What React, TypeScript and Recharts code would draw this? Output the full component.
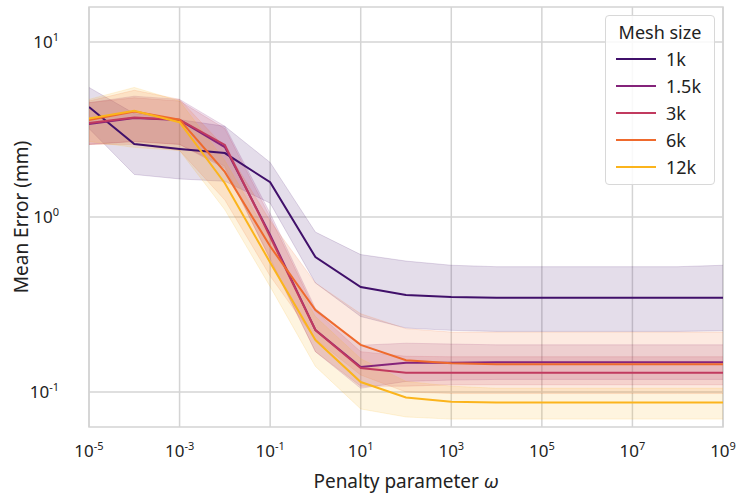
import React from 'react'
import { ComposedChart, Area, Line, XAxis, YAxis, CartesianGrid, ReferenceArea } from 'recharts'

// exponents of the penalty parameter (one point per decade)
const exponents = [-5, -4, -3, -2, -1, 0, 1, 2, 3, 4, 5, 6, 7, 8, 9]
const xTicks = [1e-5, 1e-3, 1e-1, 1e1, 1e3, 1e5, 1e7, 1e9]
const yTicks = [0.1, 1, 10]

const meshNames = ['1k', '1.5k', '3k', '6k', '12k']
const meshColors = ['#40106a', '#84237a', '#c13a5f', '#ef6a2d', '#fbb41c']

const mean1k = [4.25, 2.61, 2.45, 2.32, 1.58, 0.59, 0.398, 0.358, 0.349, 0.346, 0.346, 0.346, 0.346, 0.346, 0.346]
const upper1k = [5.5, 3.9, 3.6, 3.3, 2.05, 0.82, 0.61, 0.56, 0.53, 0.52, 0.52, 0.52, 0.52, 0.52, 0.53]
const lower1k = [3.2, 1.75, 1.65, 1.6, 1.2, 0.42, 0.27, 0.232, 0.225, 0.222, 0.222, 0.222, 0.222, 0.222, 0.224]

const mean15k = [3.4, 3.68, 3.58, 2.51, 0.79, 0.226, 0.139, 0.147, 0.147, 0.148, 0.148, 0.148, 0.148, 0.148, 0.148]
const upper15k = [4.5, 4.9, 4.7, 3.3, 1.05, 0.3, 0.185, 0.19, 0.188, 0.186, 0.186, 0.186, 0.186, 0.186, 0.186]
const lower15k = [2.6, 2.7, 2.6, 1.9, 0.58, 0.17, 0.105, 0.115, 0.117, 0.118, 0.118, 0.118, 0.118, 0.118, 0.118]

const mean3k = [3.45, 3.7, 3.6, 2.58, 0.77, 0.226, 0.137, 0.129, 0.129, 0.129, 0.129, 0.129, 0.129, 0.129, 0.129]
const upper3k = [4.5, 4.8, 4.6, 3.2, 1.0, 0.29, 0.17, 0.16, 0.159, 0.159, 0.159, 0.159, 0.159, 0.159, 0.159]
const lower3k = [2.6, 2.7, 2.6, 1.95, 0.57, 0.17, 0.108, 0.108, 0.11, 0.11, 0.11, 0.11, 0.11, 0.11, 0.11]

const mean6k = [3.58, 4.0, 3.6, 1.81, 0.68, 0.294, 0.186, 0.152, 0.146, 0.144, 0.144, 0.144, 0.144, 0.144, 0.144]
const upper6k = [4.6, 5.3, 4.7, 2.5, 0.95, 0.42, 0.28, 0.23, 0.22, 0.22, 0.22, 0.22, 0.22, 0.22, 0.22]
const lower6k = [2.6, 2.6, 2.4, 1.25, 0.46, 0.2, 0.125, 0.1, 0.098, 0.098, 0.098, 0.098, 0.098, 0.098, 0.098]

const mean12k = [3.65, 4.05, 3.48, 1.56, 0.55, 0.198, 0.114, 0.093, 0.088, 0.087, 0.087, 0.087, 0.087, 0.087, 0.087]
const upper12k = [4.7, 5.5, 4.6, 2.1, 0.75, 0.27, 0.155, 0.115, 0.108, 0.105, 0.105, 0.105, 0.105, 0.105, 0.105]
const lower12k = [2.7, 2.5, 2.4, 1.1, 0.4, 0.14, 0.08, 0.072, 0.07, 0.07, 0.07, 0.07, 0.07, 0.07, 0.07]

const means = [mean1k, mean15k, mean3k, mean6k, mean12k]
const uppers = [upper1k, upper15k, upper3k, upper6k, upper12k]
const lowers = [lower1k, lower15k, lower3k, lower6k, lower12k]

const data = exponents.map((e, i) => {
  const row: any = { x: Math.pow(10, e) }
  meshNames.forEach((_, s) => {
    row['m' + s] = means[s][i]
    row['b' + s] = [lowers[s][i], uppers[s][i]]
  })
  return row
})

const FONT = '"Noto Sans", sans-serif'
const GRID = '#d4d4d4'
const Y_MIN = Math.pow(10, -1.2)
const Y_MAX = Math.pow(10, 1.2)

const XTick = ({ x, y, payload }: any) => {
  const e = Math.round(Math.log10(payload.value))
  return (
    <text x={x} y={y + 22} textAnchor="middle" fontFamily={FONT} fontSize={17} fill="#222">
      10<tspan dy={-7} fontSize={11}>{e}</tspan>
    </text>
  )
}

const YTick = ({ x, y, payload }: any) => {
  const e = Math.round(Math.log10(payload.value))
  return (
    <text x={x - 22} y={y + 6} textAnchor="end" fontFamily={FONT} fontSize={17} fill="#222">
      10<tspan dy={-7} fontSize={11}>{e}</tspan>
    </text>
  )
}

const MeshLegend = () => (
  <div
    style={{
      position: 'absolute',
      left: 605,
      top: 15,
      width: 110,
      height: 170,
      boxSizing: 'border-box',
      border: '1.5px solid #d8d8d8',
      borderRadius: 4,
      background: 'rgba(255,255,255,0.85)',
      fontFamily: FONT,
      fontSize: 18,
      color: '#222',
      paddingTop: 3,
    }}
  >
    <div style={{ textAlign: 'center', lineHeight: '26px' }}>Mesh size</div>
    {meshNames.map((n, i) => (
      <div key={n} style={{ display: 'flex', alignItems: 'center', height: 27 }}>
        <div style={{ width: 40, height: 2, background: meshColors[i], marginLeft: 10, marginRight: 10 }} />
        <span>{n}</span>
      </div>
    ))}
  </div>
)

export default function App() {
  return (
    <div style={{ position: 'absolute', left: 0, top: 0, width: 736, height: 495, background: '#fff' }}>
      <ComposedChart width={736} height={495} data={data} margin={{ top: 7, right: 13, left: 0, bottom: 0 }}>
        <CartesianGrid stroke={GRID} strokeWidth={1.5} horizontalValues={yTicks} verticalValues={xTicks} />
        <ReferenceArea x1={1e-5} x2={1e9} y1={Y_MIN} y2={Y_MAX} fill="none" stroke={GRID} strokeWidth={1.5} />
        <XAxis
          dataKey="x"
          type="number"
          scale="log"
          domain={[1e-5, 1e9]}
          ticks={xTicks}
          interval={0}
          tick={<XTick />}
          tickLine={false}
          axisLine={false}
          height={68}
          allowDataOverflow
          label={{
            content: () => (
              <text x={406} y={488} textAnchor="middle" fontFamily={FONT} fontSize={19} fill="#222">
                Penalty parameter <tspan fontStyle="italic">ω</tspan>
              </text>
            ),
          }}
        />
        <YAxis
          type="number"
          scale="log"
          domain={[Y_MIN, Y_MAX]}
          ticks={yTicks}
          interval={0}
          tick={<YTick />}
          tickLine={false}
          axisLine={false}
          width={89}
          allowDataOverflow
          label={{
            content: () => (
              <text x={28} y={217} transform="rotate(-90 28 217)" textAnchor="middle" fontFamily={FONT} fontSize={19} fill="#222">
                Mean Error (mm)
              </text>
            ),
          }}
        />
        {meshNames.map((n, s) => (
          <Area
            key={'b' + n}
            dataKey={'b' + s}
            type="linear"
            stroke={meshColors[s]}
            strokeOpacity={0.15}
            fill={meshColors[s]}
            fillOpacity={0.14}
            isAnimationActive={false}
          />
        ))}
        {meshNames.map((n, s) => (
          <Line
            key={'m' + n}
            dataKey={'m' + s}
            name={n}
            type="linear"
            stroke={meshColors[s]}
            strokeWidth={2}
            dot={false}
            isAnimationActive={false}
          />
        ))}
      </ComposedChart>
      <MeshLegend />
    </div>
  )
}
